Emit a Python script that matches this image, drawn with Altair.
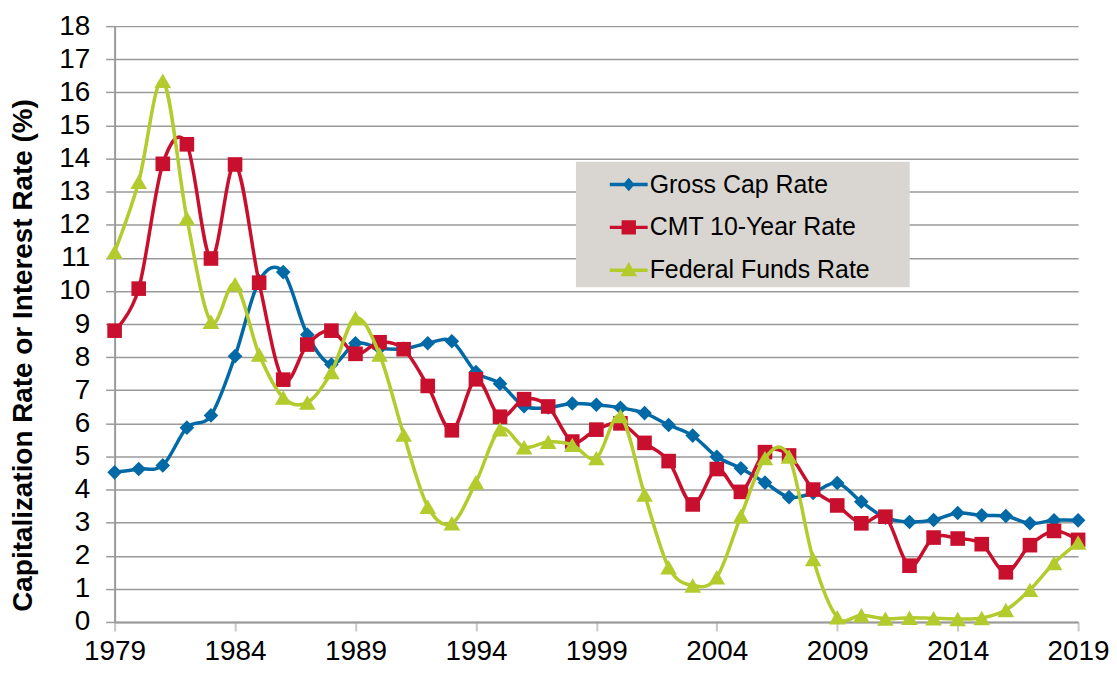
import altair as alt
import pandas as pd

years = list(range(1979, 2020))
gross_cap = [4.52, 4.62, 4.73, 5.87, 6.24, 8.03, 10.3, 10.57, 8.68, 7.78,
             8.42, 8.27, 8.25, 8.42, 8.48, 7.55, 7.2, 6.52, 6.48, 6.6,
             6.56, 6.47, 6.31, 5.95, 5.63, 4.99, 4.64, 4.21, 3.77, 3.9,
             4.2, 3.63, 3.15, 3.02, 3.08, 3.29, 3.22, 3.2, 2.98, 3.07, 3.07]
cmt_10yr = [8.8, 10.07, 13.84, 14.43, 10.98, 13.82, 10.25, 7.32, 8.38, 8.8,
            8.1, 8.45, 8.24, 7.13, 5.79, 7.33, 6.2, 6.73, 6.51, 5.45,
            5.81, 6.0, 5.41, 4.86, 3.55, 4.62, 3.93, 5.13, 5.03, 4.0,
            3.52, 2.98, 3.18, 1.7, 2.55, 2.52, 2.35, 1.5, 2.32, 2.75, 2.48]
fed_funds = [11.18, 13.3, 16.35, 12.2, 9.07, 10.2, 8.08, 6.78, 6.63, 7.55,
             9.18, 8.08, 5.66, 3.48, 2.98, 4.22, 5.82, 5.28, 5.44, 5.35,
             4.95, 6.22, 3.85, 1.65, 1.1, 1.35, 3.2, 4.95, 5.0, 1.9,
             0.14, 0.2, 0.1, 0.13, 0.11, 0.09, 0.12, 0.36, 0.97, 1.78, 2.4]

series_names = ["Gross Cap Rate", "CMT 10-Year Rate", "Federal Funds Rate"]
series_values = [gross_cap, cmt_10yr, fed_funds]
series_colors = ["#0069a6", "#c8102e", "#b3cb2d"]
plot_shapes = ["diamond", "square", "triangle-up"]
plot_sizes = [215, 215, 280]
legend_shapes = [
    "M-1,-0.09H1V0.09H-1Z M0,-0.36L0.31,0L0,0.36L-0.31,0Z",
    "M-1,-0.09H1V0.09H-1Z M-0.38,-0.38H0.38V0.38H-0.38Z",
    "M-1,-0.09H1V0.09H-1Z M0,-0.44L0.44,0.32L-0.44,0.32Z",
]
x_ticks = [1979, 1984, 1989, 1994, 1999, 2004, 2009, 2014, 2019]
y_ticks = list(range(0, 19))

rows = []
for name, vals in zip(series_names, series_values):
    for yr, v in zip(years, vals):
        rows.append({"year": yr, "value": v, "series": name})
df = pd.DataFrame(rows)

FONT = "Liberation Sans"
AX = "#9a9a9a"

x_enc = alt.X(
    "year:Q",
    scale=alt.Scale(domain=[1979, 2019], nice=False, zero=False),
    axis=alt.Axis(values=x_ticks, format="d", grid=False, tickSize=9,
                  tickColor="#c8c8c8", tickWidth=2, domainColor=AX,
                  domainWidth=2, labelFontSize=28, labelFont=FONT,
                  labelColor="black", labelPadding=7, title=None,
                  labelFlush=False, labelOverlap=False),
)
y_enc = alt.Y(
    "value:Q",
    scale=alt.Scale(domain=[0, 18], nice=False),
    axis=alt.Axis(values=y_ticks, grid=True, gridColor=AX, gridWidth=1.5,
                  tickSize=9, tickColor=AX, tickWidth=1.5, domainColor=AX,
                  domainWidth=2, labelFontSize=28, labelFont=FONT,
                  labelColor="black", labelPadding=16, labelOverlap=False,
                  title="Capitalization Rate or Interest Rate (%)",
                  titleFontSize=28, titleFont=FONT, titleFontWeight="bold",
                  titleColor="black", titleAngle=270, titleAlign="center",
                  titleBaseline="middle", titleX=-91, titleY=330),
)

layers = []
for name, color, shp, sz in zip(series_names, series_colors, plot_shapes, plot_sizes):
    base = alt.Chart(df).transform_filter(alt.datum.series == name)
    layers.append(base.mark_line(interpolate="cardinal", strokeWidth=3.5,
                                 color=color).encode(x=x_enc, y=y_enc))
    layers.append(base.mark_point(shape=shp, filled=True, size=sz, color=color,
                                  opacity=1, strokeWidth=0).encode(x=x_enc, y=y_enc))

legend_props = dict(
    title=None, orient="none", legendX=463, legendY=136,
    fillColor="#d9d6d2", padding=4, symbolOffset=30,
    labelOffset=2, rowPadding=11, labelFontSize=25, labelLimit=500,
    labelFont=FONT, labelColor="black", symbolSize=1444,
    symbolStrokeWidth=0,
    labelExpr="datum.label + '\u2800\u2800'",
)

legend_layer = alt.Chart(df).transform_filter("false").mark_point(
    filled=True, opacity=1, size=1444, strokeWidth=0
).encode(
    x=x_enc,
    y=y_enc,
    color=alt.Color("series:N",
                    scale=alt.Scale(domain=series_names, range=series_colors),
                    legend=alt.Legend(**legend_props)),
    shape=alt.Shape("series:N",
                    scale=alt.Scale(domain=series_names, range=legend_shapes),
                    legend=alt.Legend(**legend_props)),
)

chart = alt.layer(*layers, legend_layer).properties(
    width=967,
    height=598,
    background="white",
    autosize=alt.AutoSizeParams(type="none"),
    padding={"left": 107, "top": 17, "right": 31, "bottom": 42},
).configure_view(stroke=None)

chart.save("out.html", embed_options={"renderer": "svg", "actions": False})
